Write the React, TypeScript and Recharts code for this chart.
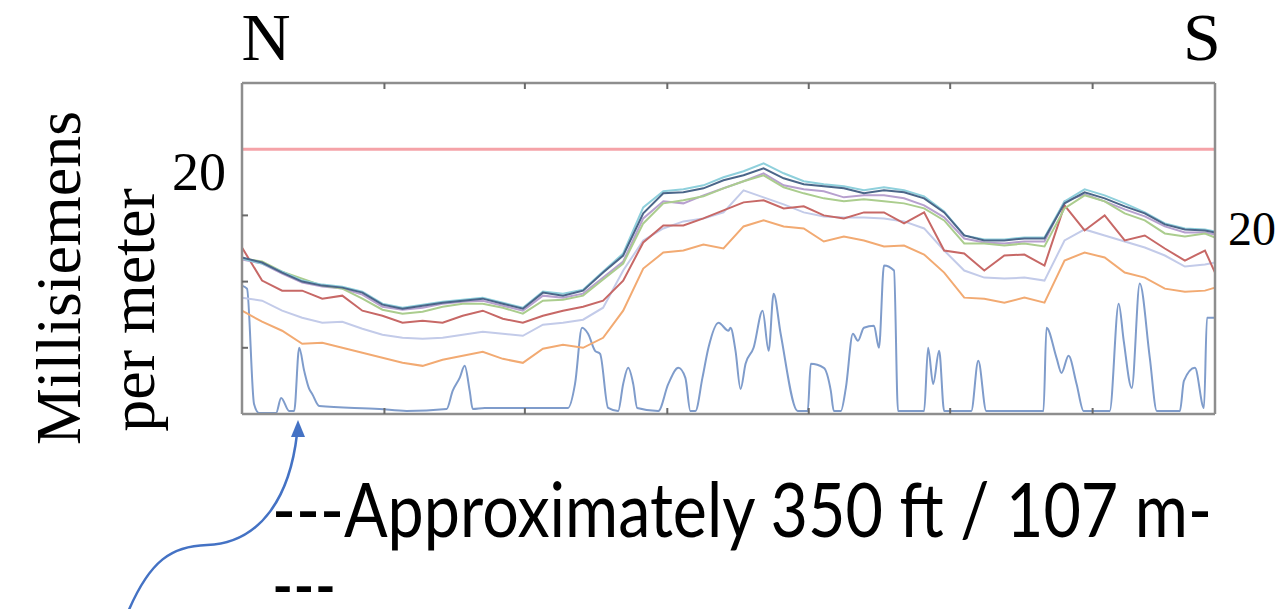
import React from 'react';
import { LineChart, Line, XAxis, YAxis, ReferenceLine } from 'recharts';

// distance along the transect (plot units, 0..970)
const distance = [0,20,40,60,80,100,120,140,160,180,200,220,240,260,280,300,320,340,360,380,400,420,440,460,480,500,520,540,560,580,600,620,640,660,680,700,720,740,760,780,800,820,840,860,880,900,920,940,960,970];

const navy = [156,151,141,132,128,126,121,109,105,108,111,113,115,110,105,121,118,123,141,158,200,220,221,225,233,238,245,235,229,227,225,220,223,221,215,201,178,173,173,175,175,210,221,215,207,200,189,184,183,181];
const cyan = [155,150,142,133,129,127,122,110,106,109,112,114,116,111,106,122,120,124,142,160,206,222,224,228,236,242,250,240,232,229,227,223,226,223,217,202,178,174,174,176,176,212,224,218,210,201,190,185,184,182];
const green = [155,152,142,135,128,125,115,104,100,102,107,110,110,106,100,113,114,118,134,150,190,210,213,217,225,232,238,226,220,215,212,214,212,210,205,193,170,170,168,170,167,205,218,212,200,193,180,177,180,176];
const purple = [154,150,140,131,127,125,119,107,104,106,110,112,113,108,103,118,116,120,136,152,195,212,210,218,225,232,240,228,224,222,216,218,218,215,208,196,175,171,170,172,172,212,219,212,204,197,187,181,181,179];
const red = [166,133,123,123,115,118,103,98,91,93,91,98,103,95,91,98,103,107,113,133,171,188,188,195,203,211,213,205,207,198,195,201,201,190,201,163,160,143,158,159,148,208,183,198,173,178,165,153,163,141];
const lightBlue = [116,113,103,96,91,92,85,79,76,75,76,79,82,80,78,89,91,94,106,143,173,185,192,195,201,223,216,209,201,197,196,196,195,192,185,163,143,136,135,136,133,173,184,178,172,166,158,147,149,151];
const orange = [103,92,83,70,71,66,61,56,51,48,54,58,62,55,51,65,69,66,76,103,145,161,163,169,165,187,193,187,185,172,177,173,167,168,159,141,116,115,111,116,111,153,161,156,141,136,125,122,123,126];

// bottom spiky series (own sampling)
const spikeX = [0,5,12,17,34,39,47,52,57,62,67,70,77,137,164,204,210,217,222,227,230,242,325,332,339,345,352,357,365,375,380,385,390,394,415,425,435,442,447,452,459,465,475,485,487,492,497,502,510,519,525,530,537,554,564,567,580,587,590,597,602,609,614,620,630,635,640,650,654,680,684,689,695,700,727,734,742,799,802,812,817,824,832,839,865,874,879,887,895,905,912,935,939,950,959,962,970];
const spikeV = [128,125,10,1,1,16,3,3,66,43,25,20,8,5,3,5,23,36,48,23,5,6,6,30,86,80,63,60,6,3,30,46,30,6,3,30,46,36,3,3,36,66,91,83,86,63,25,50,66,103,63,120,80,3,3,50,46,23,3,3,26,80,73,86,88,66,148,143,3,3,66,30,63,3,3,53,3,3,86,56,41,58,30,3,3,110,73,26,130,56,3,3,33,46,6,96,96];

const limitValue = 264;
const xTicks = [142, 282, 424, 565, 706, 848];
const leftTicks = [66, 132, 198];
const rightTicks = [65, 130, 188];

const data = distance.map((d, i) => ({
  d,
  navy: navy[i],
  cyan: cyan[i],
  green: green[i],
  purple: purple[i],
  red: red[i],
  lightBlue: lightBlue[i],
  orange: orange[i],
}));
const spikeData = spikeX.map((d, i) => ({ d, v: spikeV[i] }));

const frame = { stroke: '#8e8e8e', strokeWidth: 2.5 };
const tickStyle = { stroke: '#6a6a6a', strokeWidth: 2 };
const noLabel = () => <g />;

export default function App() {
  return (
    <div style={{ position: 'absolute', left: 0, top: 0, width: 1288, height: 609, background: '#fff', overflow: 'hidden' }}>
      <LineChart width={1288} height={609} data={data} margin={{ top: 83, right: 73, bottom: 195, left: 242 }}>
        <XAxis dataKey="d" type="number" domain={[0, 970]} ticks={xTicks} height={1} mirror tick={noLabel} tickSize={6} axisLine={frame} tickLine={tickStyle} />
        <XAxis xAxisId="top" orientation="top" dataKey="d" type="number" domain={[0, 970]} ticks={xTicks} height={1} mirror tick={noLabel} tickSize={6} axisLine={frame} tickLine={tickStyle} />
        <YAxis type="number" domain={[0, 330]} ticks={leftTicks} width={1} mirror tick={noLabel} tickSize={6} axisLine={frame} tickLine={tickStyle} />
        <YAxis yAxisId="right" orientation="right" type="number" domain={[0, 330]} ticks={rightTicks} width={1} mirror tick={noLabel} tickSize={6} axisLine={frame} tickLine={tickStyle} />
        <ReferenceLine y={limitValue} stroke="#f5a3a8" strokeWidth={3} />
        <Line data={spikeData} dataKey="v" type="monotone" stroke="#7f9ccb" strokeWidth={2} dot={false} isAnimationActive={false} />
        <Line dataKey="orange" type="linear" stroke="#f2aa72" strokeWidth={2} dot={false} isAnimationActive={false} />
        <Line dataKey="lightBlue" type="linear" stroke="#c3cbe9" strokeWidth={2} dot={false} isAnimationActive={false} />
        <Line dataKey="red" type="linear" stroke="#c76866" strokeWidth={2} dot={false} isAnimationActive={false} />
        <Line dataKey="purple" type="linear" stroke="#b7a0cf" strokeWidth={2} dot={false} isAnimationActive={false} />
        <Line dataKey="green" type="linear" stroke="#abcd8e" strokeWidth={2} dot={false} isAnimationActive={false} />
        <Line dataKey="cyan" type="linear" stroke="#8fd0dc" strokeWidth={2} dot={false} isAnimationActive={false} />
        <Line dataKey="navy" type="linear" stroke="#4b6689" strokeWidth={2} dot={false} isAnimationActive={false} />
      </LineChart>
      <svg width={1288} height={609} style={{ position: 'absolute', left: 0, top: 0, pointerEvents: 'none' }}>
        <g fontFamily="'Liberation Serif', serif" fill="#000">
          <text x={266} y={60} fontSize={68} textAnchor="middle">N</text>
          <text x={1202} y={60} fontSize={68} textAnchor="middle">S</text>
          <text x={199} y={190} fontSize={54} textAnchor="middle">20</text>
          <text x={1228} y={245} fontSize={48}>20</text>
          <text transform="translate(80,278) rotate(-90)" fontSize={64} textAnchor="middle">Millisiemens</text>
          <text transform="translate(154,310) rotate(-90)" fontSize={64} textAnchor="middle">per meter</text>
        </g>
        <g fontFamily="Lato, 'Open Sans', sans-serif" fill="#000">
          <text x={272} y={537} fontSize={76} textLength={940} lengthAdjust="spacingAndGlyphs">---Approximately 350 ft / 107 m-</text>
          <text x={272} y={612} fontSize={76} textLength={64} lengthAdjust="spacingAndGlyphs">---</text>
        </g>
        <path d="M 128 612 C 150 560, 172 546, 207 545 C 262 543, 290 495, 297 434" fill="none" stroke="#4472c4" strokeWidth={2.5} />
        <polygon points="298,420 291,437 305,437" fill="#4472c4" />
      </svg>
    </div>
  );
}
